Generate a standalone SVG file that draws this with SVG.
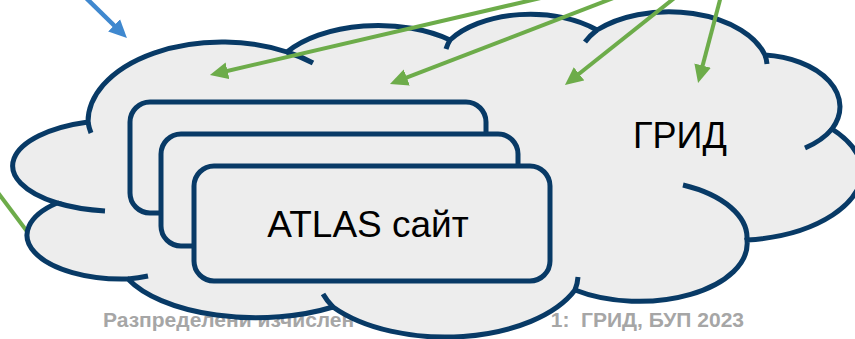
<svg xmlns="http://www.w3.org/2000/svg" width="855" height="339" viewBox="0 0 855 339">
  <style>
    .footer { font-family: "Liberation Sans", Arial, sans-serif; font-weight: bold; font-size: 21px; fill: #A6A6A6; white-space: pre; }
    .label { font-family: "Liberation Sans", Arial, sans-serif; font-size: 36px; fill: #000000; }
    .outline { fill: none; stroke: #083A66; stroke-width: 5; stroke-linecap: butt; }
    .cloudfill { fill: #EDEDED; stroke: none; }
    .box { fill: #EDEDED; stroke: #083A66; stroke-width: 5; }
    .green { fill: none; stroke: #6DAC4A; stroke-width: 4; }
    .blue { fill: none; stroke: #3F88CF; stroke-width: 4.5; }
  </style>
  <defs>
    <marker id="headGreen" markerUnits="userSpaceOnUse" viewBox="0 -9 18 18" refX="8" refY="0" markerWidth="18" markerHeight="18" orient="auto">
      <path d="M0,-8.5 L18,0 L0,8.5 z" fill="#6DAC4A"/>
    </marker>
    <marker id="headBlue" markerUnits="userSpaceOnUse" viewBox="0 -9 18 18" refX="8" refY="0" markerWidth="18" markerHeight="18" orient="auto">
      <path d="M0,-8.5 L18,0 L0,8.5 z" fill="#3F88CF"/>
    </marker>
  </defs>

  <g id="footer">
    <text class="footer" x="103" y="327">Разпределени изчислен</text>
    <text class="footer" x="744" y="327" text-anchor="end">1:  ГРИД, БУП 2023</text>
  </g>

  <g id="connectors-back">
    <line class="green" x1="-4" y1="190" x2="50" y2="262"/>
  </g>

  <g id="grid-cloud">
    <path class="cloudfill" d="M57,203 A108,46 0 0 1 88,122 A134,80 0 0 1 287,52 A110,60 0 0 1 450,40 A95,55 0 0 1 597,30 A100,60 0 0 1 765,55 A83,52 0 0 1 832,129 A100,68 0 0 1 862,165 A130,70 0 0 1 747,240 A108,58 0 0 1 575,290 A140,75 0 0 1 333,307 A140,65 0 0 1 128,279 A95,44 0 0 1 57,203 Z"/>
    <path class="outline" d="M57,203 A108,46 0 0 1 88,122 A134,80 0 0 1 287,52 A110,60 0 0 1 450,40 A95,55 0 0 1 597,30 A100,60 0 0 1 765,55 A83,52 0 0 1 832,129 A100,68 0 0 1 862,165 A130,70 0 0 1 747,240 A108,58 0 0 1 575,290 A140,75 0 0 1 333,307 A140,65 0 0 1 128,279 A95,44 0 0 1 57,203 Z"/>
    <path class="outline" d="M57,203 A108,46 0 0 0 105,211 M88,122 A134,80 0 0 0 91,133 M287,52 A134,80 0 0 1 313,63 M450,40 A95,55 0 0 0 446,49 M597,30 A100,60 0 0 0 585,42 M765,55 A100,60 0 0 1 767,64 M832,129 A83,52 0 0 1 805,148 M747,240 A108,58 0 0 0 683,185 M575,290 A140,75 0 0 0 578,277 M333,307 A140,75 0 0 1 323,294 M128,279 A95,44 0 0 0 148,276"/>
    <text class="label" x="680" y="148" text-anchor="middle">ГРИД</text>
  </g>

  <g id="atlas-site">
    <rect class="box" x="130" y="102" width="356" height="111" rx="20" ry="20"/>
    <rect class="box" x="161" y="134" width="357" height="112" rx="20" ry="20"/>
    <rect class="box" x="194" y="166" width="356" height="115" rx="20" ry="20"/>
    <text class="label" x="368" y="237" text-anchor="middle" style="font-size:37px">ATLAS сайт</text>
  </g>

  <g id="connectors">
    <line class="green" x1="545" y1="-3" x2="219.7" y2="72.7" marker-end="url(#headGreen)"/>
    <line class="green" x1="616" y1="-3" x2="399.3" y2="80.4" marker-end="url(#headGreen)"/>
    <line class="green" x1="684.5" y1="-10" x2="572.8" y2="78.8" marker-end="url(#headGreen)"/>
    <line class="green" x1="722.6" y1="-10" x2="700.6" y2="73.3" marker-end="url(#headGreen)"/>
    <line class="blue" x1="82" y1="-6" x2="119.8" y2="31" marker-end="url(#headBlue)"/>
  </g>
</svg>
